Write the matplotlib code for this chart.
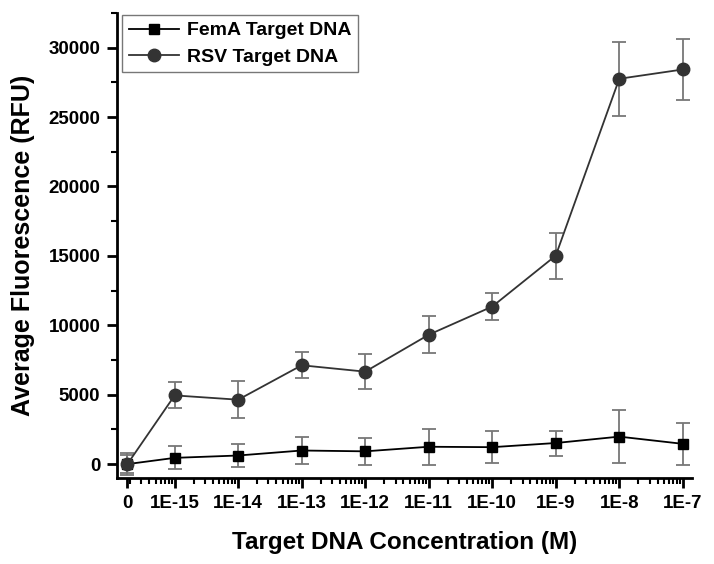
import matplotlib
matplotlib.use("Agg")
import matplotlib.pyplot as plt
from matplotlib.lines import Line2D
from matplotlib.ticker import FixedLocator, LogLocator, MultipleLocator, NullFormatter

plt.rcParams['font.family'] = ['Liberation Sans', 'DejaVu Sans']
plt.rcParams['font.weight'] = 'bold'

# Categories (concentration, M). "0" is drawn at a small stand-in value on the log axis.
conc_labels = ["0", "1E-15", "1E-14", "1E-13", "1E-12", "1E-11", "1E-10", "1E-9", "1E-8", "1E-7"]
conc_values = [1.8e-16, 1e-15, 1e-14, 1e-13, 1e-12, 1e-11, 1e-10, 1e-9, 1e-8, 1e-7]

fema_mean = [0, 450, 620, 980, 920, 1250, 1220, 1520, 1980, 1460]
fema_err = [650, 820, 820, 990, 950, 1290, 1150, 900, 1900, 1490]

rsv_mean = [0, 4950, 4640, 7120, 6660, 9320, 11350, 15020, 27760, 28430]
rsv_err = [800, 930, 1340, 940, 1270, 1320, 960, 1660, 2650, 2230]

fig = plt.figure(figsize=(7.14, 5.64), dpi=100)
ax = fig.add_axes([0.164, 0.1525, 0.805, 0.8245])

ax.set_xscale('log')
ax.errorbar(conc_values, fema_mean, yerr=fema_err, color='#000000', marker='s', markersize=7.5,
            linewidth=1.3, ecolor='#777777', elinewidth=1.3, capsize=5, capthick=1.3, zorder=3)
ax.errorbar(conc_values, rsv_mean, yerr=rsv_err, color='#333333', marker='o', markersize=9,
            linewidth=1.3, ecolor='#777777', elinewidth=1.3, capsize=5, capthick=1.3, zorder=3)

ax.set_xlim(1.24e-16, 1.39e-7)
ax.set_ylim(-1000, 32500)

ax.xaxis.set_major_locator(FixedLocator(conc_values))
ax.set_xticklabels(conc_labels)
ax.xaxis.set_minor_locator(LogLocator(base=10, subs=[2, 3, 4, 5, 6, 7, 8, 9], numticks=30))
ax.xaxis.set_minor_formatter(NullFormatter())

ax.yaxis.set_major_locator(MultipleLocator(5000))
ax.yaxis.set_minor_locator(MultipleLocator(2500))

for s in ['top', 'right']:
    ax.spines[s].set_visible(False)
for s in ['left', 'bottom']:
    ax.spines[s].set_linewidth(2.0)

ax.tick_params(axis='both', which='major', direction='out', length=7, width=2, labelsize=13.5, pad=5)
ax.tick_params(axis='both', which='minor', direction='out', length=4, width=1.5)
for lab in ax.get_xticklabels() + ax.get_yticklabels():
    lab.set_fontweight('bold')

ax.set_xlabel('Target DNA Concentration (M)', fontsize=17.5, fontweight='bold', labelpad=14)
ax.set_ylabel('Average Fluorescence (RFU)', fontsize=18, fontweight='bold', labelpad=10)

handles = [
    Line2D([], [], color='#000000', marker='s', markersize=7.5, linewidth=1.3),
    Line2D([], [], color='#333333', marker='o', markersize=9, linewidth=1.3),
]
leg = ax.legend(handles, ['FemA Target DNA', 'RSV Target DNA'], loc='upper left',
                bbox_to_anchor=(0.005, 1.0), fontsize=14, frameon=True,
                fancybox=False, edgecolor='#555555', handlelength=2.6, borderpad=0.35,
                labelspacing=0.45, handletextpad=0.4, borderaxespad=0.1)
leg.get_frame().set_linewidth(1.0)
for t in leg.get_texts():
    t.set_fontweight('bold')

fig.savefig('out.png', dpi=100)
